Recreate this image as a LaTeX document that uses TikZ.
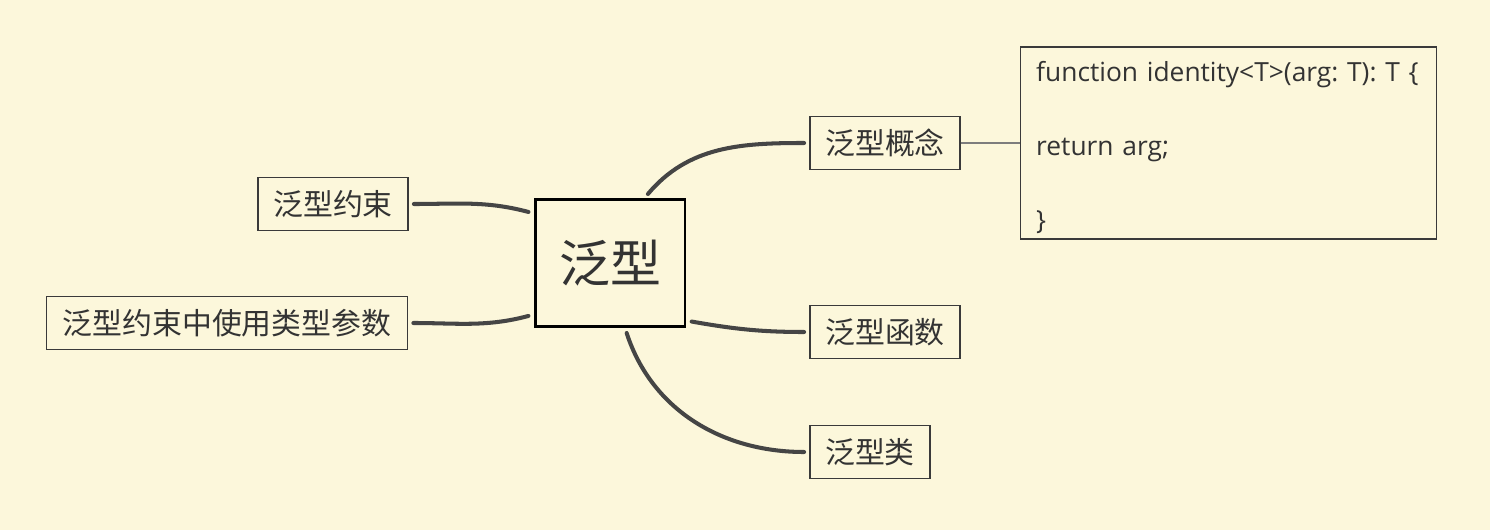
\documentclass[tikz,border=0pt]{standalone}
\usepackage{fontspec}
\newfontfamily\cjk{Noto Sans CJK SC}
\newfontfamily\codefont{Open Sans}
\usetikzlibrary{positioning}
\definecolor{cbg}{HTML}{FCF7DB}
\definecolor{ctext}{HTML}{333333}
\definecolor{cline}{HTML}{454545}
\definecolor{cink}{HTML}{3A3A3A}
\tikzset{
  every picture/.style={font=\cjk, line width=0.8pt},
  topic/.style={draw=cink, line width=0.7pt, inner sep=0pt, minimum width=#1, minimum height=1.06cm, text=ctext, font=\cjk\fontsize{17}{20}\selectfont},
  topic/.default=3cm,
  rootbox/.style={draw=black, line width=1.7pt, inner sep=0pt, minimum width=3cm, minimum height=2.54cm, text=ctext, font=\cjk\fontsize{29}{34}\selectfont},
  branchline/.style={draw=cline, line width=2.3pt, line cap=round, shorten <=3pt, shorten >=3pt},
  codebox/.style={draw=cink, line width=0.7pt, align=left, text width=7.68cm, inner xsep=0.32cm, inner ysep=0pt, minimum height=3.84cm, text=ctext, font=\codefont\frenchspacing\fontsize{15}{42}\selectfont},
}

\begin{document}
\begin{tikzpicture}[x=0.02cm, y=-0.02cm]
  \fill[cbg] (0,0) rectangle (1490,530);
  \useasboundingbox (0,0) rectangle (1490,530);
  % centre
  \node[rootbox] (generics) at (610,263) {泛型};
  % right side
  \node[topic] (concept) at (885,143) {泛型概念};
  \node[topic] (func) at (885,332) {泛型函数};
  \node[topic=2.4cm] (cls) at (870,452) {泛型类};
  \node[codebox, right=1.18cm of concept] (code) {\rule{0pt}{16.5pt}function identity<T>(arg: T): T \{\\
    return arg;\\
    \}};
  % left side
  \node[topic] (constraint) at (333,204) {泛型约束};
  \node[topic=7.22cm] (typeparam) at (227,323) {泛型约束中使用类型参数};
  % branches
  \draw[branchline] (generics.62) to[out=50, in=180] (concept.west);
  \draw[branchline] (generics.-37) to[out=-10, in=180] (func.west);
  \draw[branchline] (generics.-77) to[out=-72, in=180] (cls.west);
  \draw[branchline] (constraint.east) to[out=0, in=165] (generics.147);
  \draw[branchline] (typeparam.east) to[out=0, in=195] (generics.-146);
  \draw[cline!70, line width=0.6pt] (concept.east) -- (code.west);
\end{tikzpicture}
\end{document}
